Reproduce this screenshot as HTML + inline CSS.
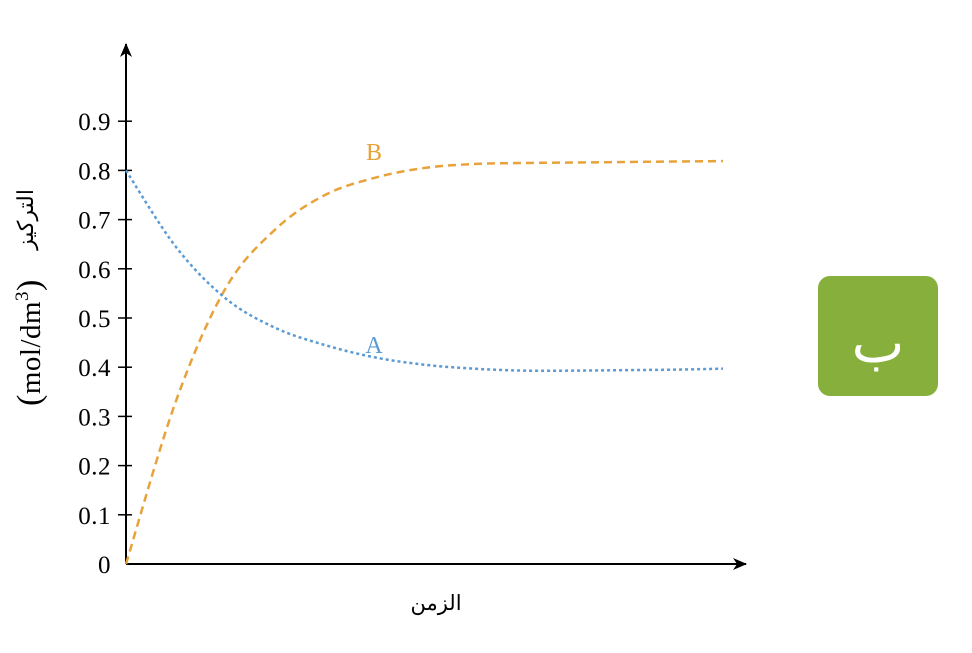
<!DOCTYPE html>
<html><head><meta charset="utf-8"><style>
html,body{margin:0;padding:0;background:#fff;}
svg text{font-family:"Liberation Serif","DejaVu Serif",serif;}
</style></head><body>
<svg id="chart" width="972" height="648" viewBox="0 0 972 648" xmlns="http://www.w3.org/2000/svg">
<defs>
<marker id="arr" markerWidth="14" markerHeight="12" refX="13" refY="6" orient="auto" markerUnits="userSpaceOnUse"><path d="M0,0 L14,6 L0,12 L4,6 Z" fill="#000"/></marker>
</defs>
<g id="axes"></g>
<g id="series"></g>
<text x="436" y="610" font-size="21" text-anchor="middle" font-family="'DejaVu Sans',sans-serif">الزمن</text>
<g transform="rotate(-90)">
<text x="-406" y="40" font-size="29" text-anchor="start" letter-spacing="0.5"><tspan font-size="34">(</tspan>mol/dm<tspan dy="-12" font-size="19">3</tspan><tspan dy="12" font-size="34">)</tspan></text>
<text x="-189" y="33" font-size="22" text-anchor="end" font-family="'DejaVu Sans',sans-serif">التركيز</text>
</g>
<text x="374" y="160" font-size="24" fill="#e8a23a" text-anchor="middle">B</text>
<text x="374" y="353" font-size="24" fill="#5b9bd5" text-anchor="middle">A</text>
<g>
<rect x="818" y="276" width="120" height="120" rx="12" fill="#86b03b"/>
<text x="878" y="362" font-size="56" fill="#fff" text-anchor="middle" font-family="'DejaVu Sans',sans-serif">ب</text>
</g>
</svg>
<script>
const yTicks=[0,0.1,0.2,0.3,0.4,0.5,0.6,0.7,0.8,0.9];
const yTickLabels=["0","0.1","0.2","0.3","0.4","0.5","0.6","0.7","0.8","0.9"];
const times=[0,1,2,3,4,5,6,7,8,9,10,11,12];
const seriesA=[0.80,0.645,0.54,0.48,0.445,0.42,0.405,0.397,0.393,0.393,0.394,0.395,0.397];
const seriesB=[0,0.33,0.56,0.68,0.75,0.785,0.805,0.813,0.815,0.816,0.817,0.818,0.819];
const NS="http://www.w3.org/2000/svg";
const x0=126,y0=564,xMax=723;
function xs(t){return x0+(t/12)*(xMax-x0);}
function ys(v){return y0-v*492;}
const axes=document.getElementById('axes');
function mk(tag,attrs,parent){const e=document.createElementNS(NS,tag);for(const k in attrs)e.setAttribute(k,attrs[k]);parent.appendChild(e);return e;}
const xa=mk('line',{x1:x0,y1:y0,x2:746,y2:y0,stroke:'#000','stroke-width':2,'marker-end':'url(#arr)'},axes);


const ya=mk('line',{x1:x0,y1:y0,x2:x0,y2:44,stroke:'#000','stroke-width':2,'marker-end':'url(#arr)'},axes);


yTicks.forEach((v,i)=>{
  const y=ys(v);
  if(i>0){const tk=mk('line',{x1:x0-8,y1:y,x2:x0+6,y2:y,stroke:'#000','stroke-width':1.5},axes);
  
  }
  const tl=mk('text',{x:x0-15,y:y+9,'font-size':25,'text-anchor':'end','letter-spacing':0.5},axes);
  tl.textContent=yTickLabels[i];
  
  
});
function pathFor(vals){
  const p=times.map((t,i)=>[xs(t),ys(vals[i])]);
  let d='M'+p[0][0]+','+p[0][1];
  for(let i=0;i<p.length-1;i++){
    const a=p[Math.max(i-1,0)],b=p[i],c=p[i+1],e=p[Math.min(i+2,p.length-1)];
    const c1=[b[0]+(c[0]-a[0])/6,b[1]+(c[1]-a[1])/6],c2=[c[0]-(e[0]-b[0])/6,c[1]-(e[1]-b[1])/6];
    d+=' C'+c1+' '+c2+' '+c;
  }
  return d;
}
const sg=document.getElementById('series');
const pb=mk('path',{d:pathFor(seriesB),fill:'none',stroke:'#e8a23a','stroke-width':2.5,'stroke-dasharray':'8,5'},sg);


const pa=mk('path',{d:pathFor(seriesA),fill:'none',stroke:'#5b9bd5','stroke-width':2.5,'stroke-dasharray':'3,3'},sg);


</script>
</body></html>
